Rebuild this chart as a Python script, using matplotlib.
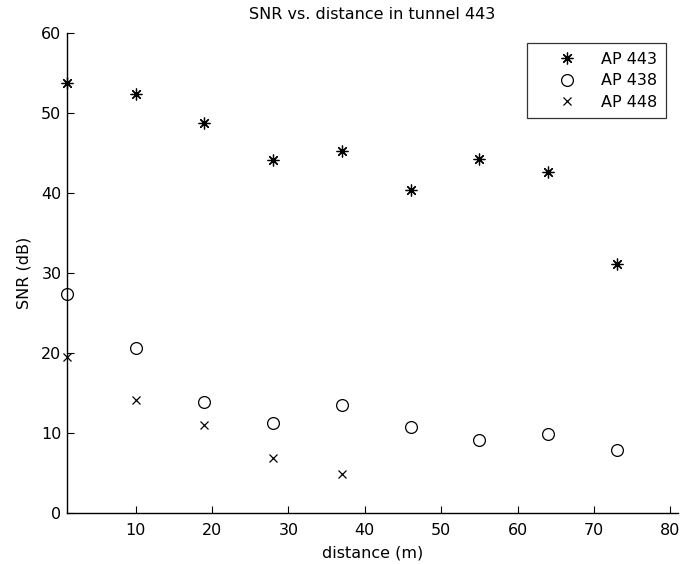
import matplotlib
matplotlib.use("Agg")
import matplotlib.pyplot as plt

distance = [1, 10, 19, 28, 37, 46, 55, 64, 73]
ap443 = [53.8, 52.4, 48.7, 44.1, 45.2, 40.4, 44.2, 42.6, 31.1]
ap438 = [27.4, 20.6, 13.9, 11.2, 13.5, 10.8, 9.1, 9.9, 7.9]
distance448 = [1, 10, 19, 28, 37]
ap448 = [19.5, 14.1, 11.0, 6.9, 4.9]
xticks = [10, 20, 30, 40, 50, 60, 70, 80]
yticks = [0, 10, 20, 30, 40, 50, 60]

plt.rcParams['font.family'] = ['DejaVu Sans']
FS = 11.5
fig = plt.figure(figsize=(6.8, 5.64), dpi=100)
ax = fig.add_axes([67/680, 1-513/564, (678-67)/680, (513-33)/564])

ax.plot(distance, ap443, linestyle='none', marker=(8, 2, 0), markersize=8.5,
        color='black', markeredgewidth=0.9, label='AP 443', clip_on=False)
ax.plot(distance, ap438, linestyle='none', marker='o', markersize=8.5,
        markerfacecolor='none', markeredgecolor='black', markeredgewidth=0.9,
        label='AP 438', clip_on=False)
ax.plot(distance448, ap448, linestyle='none', marker='x', markersize=6,
        color='black', markeredgewidth=0.9, label='AP 448', clip_on=False)

ax.set_xlim(1, 81)
ax.set_ylim(0, 60)
ax.set_xticks(xticks)
ax.set_yticks(yticks)
for s in ['top', 'right']:
    ax.spines[s].set_visible(False)
for s in ['left', 'bottom']:
    ax.spines[s].set_linewidth(1.0)
ax.tick_params(direction='in', length=5, width=0.8, labelsize=FS, colors='black')
ax.tick_params(axis='x', pad=7.5)
ax.tick_params(axis='y', pad=4)

ax.set_xlabel('distance (m)', fontsize=FS, labelpad=5)
ax.set_ylabel('SNR (dB)', fontsize=FS, labelpad=7)
ax.set_title('SNR vs. distance in tunnel 443', fontsize=FS, pad=10)

leg = ax.legend(loc='upper right', bbox_to_anchor=((666-67)/611, (564-43-51)/480),
                frameon=True, fancybox=False, edgecolor='black', fontsize=FS,
                markerfirst=True, handlelength=3.9, handletextpad=0.2,
                borderpad=0.55, labelspacing=0.4, borderaxespad=0)
leg.get_frame().set_linewidth(0.9)
leg._legend_box.align = 'left'

fig.savefig('out.png', dpi=100, facecolor='white')
